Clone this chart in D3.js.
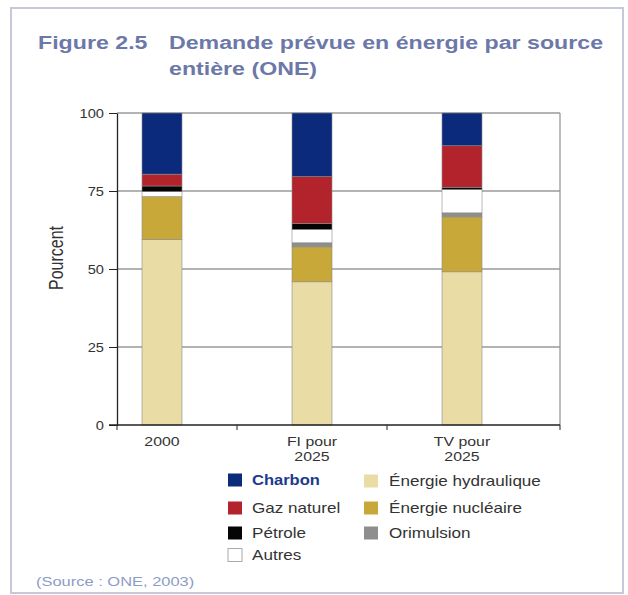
<!DOCTYPE html>
<html><head><meta charset="utf-8">
<script src="https://cdn.jsdelivr.net/npm/d3@7/dist/d3.min.js"></script>
<style>
html,body{margin:0;padding:0;background:#fff;}
svg{display:block;font-family:"Liberation Sans",Arial,sans-serif;}
</style></head>
<body>
<svg id="chart" width="628" height="595"></svg>
<script>
// ---- data ----
const categories = ["2000", "FI pour 2025", "TV pour 2025"];
const categoryLines = [["2000"], ["FI pour", "2025"], ["TV pour", "2025"]];
const seriesNames = ["Énergie hydraulique", "Énergie nucléaire", "Orimulsion", "Autres", "Pétrole", "Gaz naturel", "Charbon"];
const hydraulique = [59.5, 45.9, 49.1];
const nucleaire   = [13.7, 11.2, 17.6];
const orimulsion  = [0.0, 1.3, 1.3];
const autres      = [1.6, 4.3, 7.5];
const petrole     = [1.8, 1.9, 0.7];
const gazNaturel  = [3.8, 15.0, 13.3];
const charbon     = [19.6, 20.4, 10.5];
const yTicks = [0, 25, 50, 75, 100];
const legendCol1 = ["Charbon", "Gaz naturel", "Pétrole", "Autres"];
const legendCol2 = ["Énergie hydraulique", "Énergie nucléaire", "Orimulsion"];
const colors = {
  "Charbon": "#0b2a7c",
  "Gaz naturel": "#b2232b",
  "Pétrole": "#050505",
  "Autres": "#ffffff",
  "Énergie hydraulique": "#e9dca4",
  "Énergie nucléaire": "#c9a83a",
  "Orimulsion": "#8e8e8e"
};

const valuesBySeries = {
  "Énergie hydraulique": hydraulique, "Énergie nucléaire": nucleaire, "Orimulsion": orimulsion,
  "Autres": autres, "Pétrole": petrole, "Gaz naturel": gazNaturel, "Charbon": charbon
};
const table = categories.map((c, i) => {
  const row = {cat: c};
  seriesNames.forEach(s => row[s] = valuesBySeries[s][i]);
  return row;
});

// ---- layout ----
const SX = 1.22; // horizontal text stretch of the reference
const svg = d3.select("#chart");
const plot = {left: 117, right: 560, top: 113, bottom: 425};
const x = d3.scalePoint().domain(categories).range([162, 462]);
const barW = 40;
const y = d3.scaleLinear().domain([0, 100]).range([plot.bottom, plot.top]);

function txt(parent, px, py, s, o = {}) {
  return parent.append("text")
    .attr("transform", `translate(${px},${py}) scale(${o.sx || SX},1)`)
    .attr("text-anchor", o.anchor || "start")
    .attr("font-size", o.size || 13)
    .attr("font-weight", o.weight || "normal")
    .attr("fill", o.fill || "#333")
    .text(s);
}

// frame
svg.append("rect").attr("x", 11).attr("y", 8).attr("width", 612).attr("height", 585)
  .attr("fill", "#fff").attr("stroke", "#c6cad8").attr("stroke-width", 2);

// title
const titleFill = "#6c78a8";
txt(svg, 38, 49, "Figure 2.5", {size: 19, weight: "bold", fill: titleFill});
txt(svg, 169, 49, "Demande prévue en énergie par source", {size: 19, weight: "bold", fill: titleFill});
txt(svg, 169, 75, "entière (ONE)", {size: 19, weight: "bold", fill: titleFill});

// gridlines
svg.append("g").selectAll("line").data(yTicks.filter(t => t > 0)).join("line")
  .attr("x1", plot.left).attr("x2", plot.right)
  .attr("y1", d => y(d)).attr("y2", d => y(d))
  .attr("stroke", "#9a9a9a").attr("stroke-width", 1.3);
svg.append("line").attr("x1", plot.right).attr("x2", plot.right)
  .attr("y1", plot.top).attr("y2", plot.bottom)
  .attr("stroke", "#9a9a9a").attr("stroke-width", 1.3);

// bars
const stack = d3.stack().keys(seriesNames)(table);
svg.append("g").selectAll("g").data(stack).join("g")
  .attr("fill", d => colors[d.key])
  .selectAll("rect").data(d => d.filter(p => p[1] - p[0] > 0)).join("rect")
  .attr("x", d => x(d.data.cat) - barW / 2)
  .attr("width", barW)
  .attr("y", d => y(d[1]))
  .attr("height", d => y(d[0]) - y(d[1]))
  .attr("stroke", "#8a8a8a").attr("stroke-width", 0.6);

// y axis
const yAxis = svg.append("g").attr("transform", `translate(${plot.left},0)`)
  .call(d3.axisLeft(y).tickValues(yTicks).tickSizeInner(8).tickSizeOuter(0));
yAxis.select(".domain").attr("stroke", "#222").attr("stroke-width", 1.3);
yAxis.selectAll(".tick line").attr("stroke", "#222");
yAxis.selectAll(".tick text")
  .attr("font-family", "Liberation Sans, Arial, sans-serif")
  .attr("font-size", 12).attr("fill", "#333")
  .attr("transform", `scale(${SX},1)`).attr("x", -13 / SX).attr("dy", "0.35em");

// x axis line and ticks at category boundaries
const xs = categories.map(c => x(c));
const boundaries = [plot.left].concat(xs.slice(1).map((v, i) => (v + xs[i]) / 2), [plot.right]);
svg.append("line").attr("x1", plot.left - 8).attr("x2", plot.right)
  .attr("y1", plot.bottom).attr("y2", plot.bottom).attr("stroke", "#222").attr("stroke-width", 1.3);
svg.append("g").selectAll("line").data(boundaries).join("line")
  .attr("x1", d => d).attr("x2", d => d)
  .attr("y1", plot.bottom).attr("y2", plot.bottom + 5)
  .attr("stroke", "#222");

// x labels
categoryLines.forEach((lines, i) => {
  lines.forEach((l, j) => {
    txt(svg, x(categories[i]), 446 + j * 15, l, {size: 13, anchor: "middle"});
  });
});

// y label
svg.append("text")
  .attr("transform", `translate(63,258) rotate(-90) scale(1,${SX})`)
  .attr("text-anchor", "middle").attr("font-size", 16).attr("fill", "#333")
  .text("Pourcent");

// legend
const col1Y = [480, 508, 533, 555];
legendCol1.forEach((s, i) => {
  svg.append("rect").attr("x", 228).attr("y", col1Y[i] - 6.5).attr("width", 14).attr("height", 13)
    .attr("fill", colors[s]).attr("stroke", s === "Autres" ? "#aaa" : "none");
  txt(svg, 252, col1Y[i] + 5, s, {size: 14, fill: s === "Charbon" ? "#1d3a8c" : "#333",
    weight: s === "Charbon" ? "bold" : "normal", sx: s === "Charbon" ? 1.18 : SX});
});
const col2Y = [481, 508, 533];
legendCol2.forEach((s, i) => {
  svg.append("rect").attr("x", 364).attr("y", col2Y[i] - 6.5).attr("width", 14).attr("height", 13)
    .attr("fill", colors[s]);
  txt(svg, 389, col2Y[i] + 5, s, {size: 14});
});

// source
txt(svg, 36, 586, "(Source : ONE, 2003)", {size: 13.5, fill: "#8d9cc4"});
</script>
</body></html>
